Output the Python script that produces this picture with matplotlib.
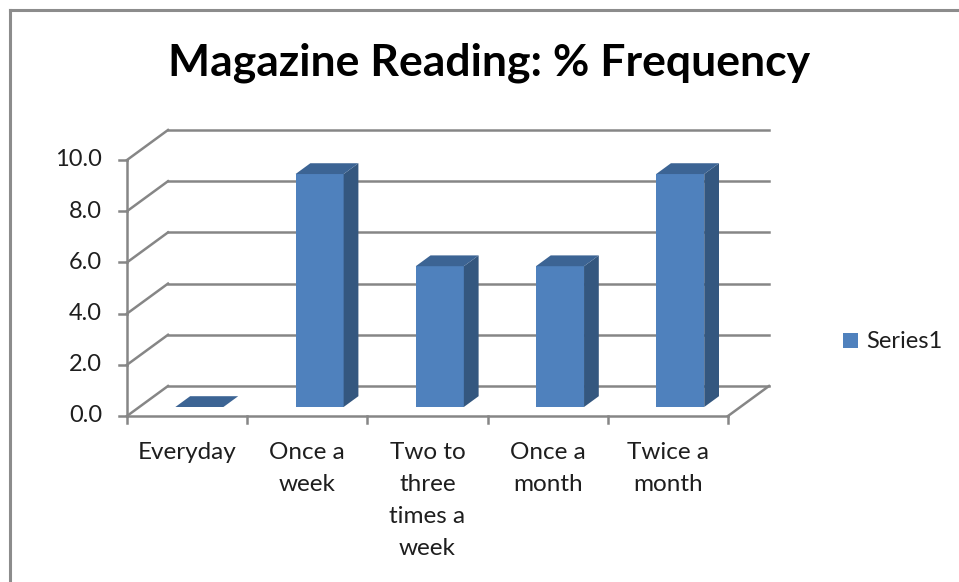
import matplotlib
matplotlib.use("Agg")
import matplotlib.pyplot as plt
from matplotlib.patches import Polygon, Rectangle
from matplotlib.lines import Line2D

# --- data -------------------------------------------------------------
categories = ["Everyday", "Once a\nweek", "Two to\nthree\ntimes a\nweek",
              "Once a\nmonth", "Twice a\nmonth"]
values = [0.0, 9.1, 5.5, 5.5, 9.1]
y_ticks = [0, 2, 4, 6, 8, 10]
series_name = "Series1"
title = "Magazine Reading: % Frequency"

# --- styling ----------------------------------------------------------
FONT = ["Lato", "DejaVu Sans"]
TXT = "#1E1E1E"
FRONT = "#4F81BD"
SIDE = "#34577F"
TOP = "#3C6494"
GRID = "#868686"

W, H = 959, 582
fig = plt.figure(figsize=(W / 100, H / 100), dpi=100)
ax = fig.add_axes([0, 0, 1, 1])
ax.axis("off")

# pixel geometry of the plot box
X0, Y0 = 127, 416          # origin of the front axes (pixels, from top-left)
PX = 120.2                 # pixels per category slot
PY = 25.6                  # pixels per value unit
ax.set_xlim(-X0 / PX, (W - X0) / PX)
ax.set_ylim(-(H - Y0) / PY, Y0 / PY)

DX, DY = 41 / PX, 30 / PY  # full depth of the 3-D floor, in data units
n = len(categories)
ymax = max(y_ticks)

lw = 1.8
# gridlines: side wall diagonals and back wall horizontals
for v in y_ticks:
    ax.add_line(Line2D([0, DX], [v, v + DY], color=GRID, lw=lw, zorder=1))
    ax.add_line(Line2D([DX, n + DX], [v + DY, v + DY], color=GRID, lw=lw, zorder=1))
    ax.add_line(Line2D([-8 / PX, 0], [v, v], color=GRID, lw=lw, zorder=1))
    ax.text(-25 / PX, v, f"{v:.1f}", ha="right", va="center",
            fontsize=17, family=FONT, color=TXT)

# floor edges and axis line
ax.add_line(Line2D([0, n], [0, 0], color=GRID, lw=lw, zorder=1))
ax.add_line(Line2D([n, n + DX], [0, DY], color=GRID, lw=lw, zorder=1))
ax.add_line(Line2D([0, 0], [0, ymax], color=GRID, lw=lw, zorder=1))
for i in range(n + 1):
    ax.add_line(Line2D([i, i], [0, -7 / PY], color=GRID, lw=lw, zorder=1))

# 3-D columns
bw = 0.4
f0, f1 = 0.30, 0.66
ddx, ddy = (f1 - f0) * DX, (f1 - f0) * DY
for i, v in enumerate(values):
    x0 = i + 0.5 - bw / 2 + f0 * DX
    y0 = f0 * DY
    if v > 0:
        ax.add_patch(Rectangle((x0, y0), bw, v, facecolor=FRONT,
                               edgecolor="none", zorder=3))
        ax.add_patch(Polygon([(x0 + bw, y0), (x0 + bw + ddx, y0 + ddy),
                              (x0 + bw + ddx, y0 + v + ddy), (x0 + bw, y0 + v)],
                             closed=True, facecolor=SIDE, edgecolor="none", zorder=3))
    ax.add_patch(Polygon([(x0, y0 + v), (x0 + bw, y0 + v),
                          (x0 + bw + ddx, y0 + v + ddy), (x0 + ddx, y0 + v + ddy)],
                         closed=True, facecolor=TOP, edgecolor="none", zorder=3))

# category labels
for i, lab in enumerate(categories):
    ax.text(i + 0.5, -26 / PY, lab, ha="center", va="top", fontsize=17.5,
            family=FONT, linespacing=1.64, color=TXT)

# legend
ax.add_patch(Rectangle(((843 - X0) / PX, (Y0 - 348) / PY), 15 / PX, 15 / PY,
                       facecolor=FRONT, edgecolor="none"))
ax.text((866 - X0) / PX, (Y0 - 341) / PY, series_name, ha="left", va="center",
        fontsize=17, family=FONT, color=TXT)

# title
ax.text((489 - X0) / PX, (Y0 - 63) / PY, title, ha="center", va="center",
        fontsize=32, fontweight="bold", family=FONT, color="#000000")

# chart frame
fig.add_artist(Line2D([9.5 / W, 9.5 / W], [0, 1 - 10 / H], color="#8C8C8C",
                      lw=2.2, transform=fig.transFigure))
fig.add_artist(Line2D([9.5 / W, 1], [1 - 10 / H, 1 - 10 / H], color="#8C8C8C",
                      lw=2.2, transform=fig.transFigure))

fig.savefig("out.png", dpi=100, facecolor="white")
